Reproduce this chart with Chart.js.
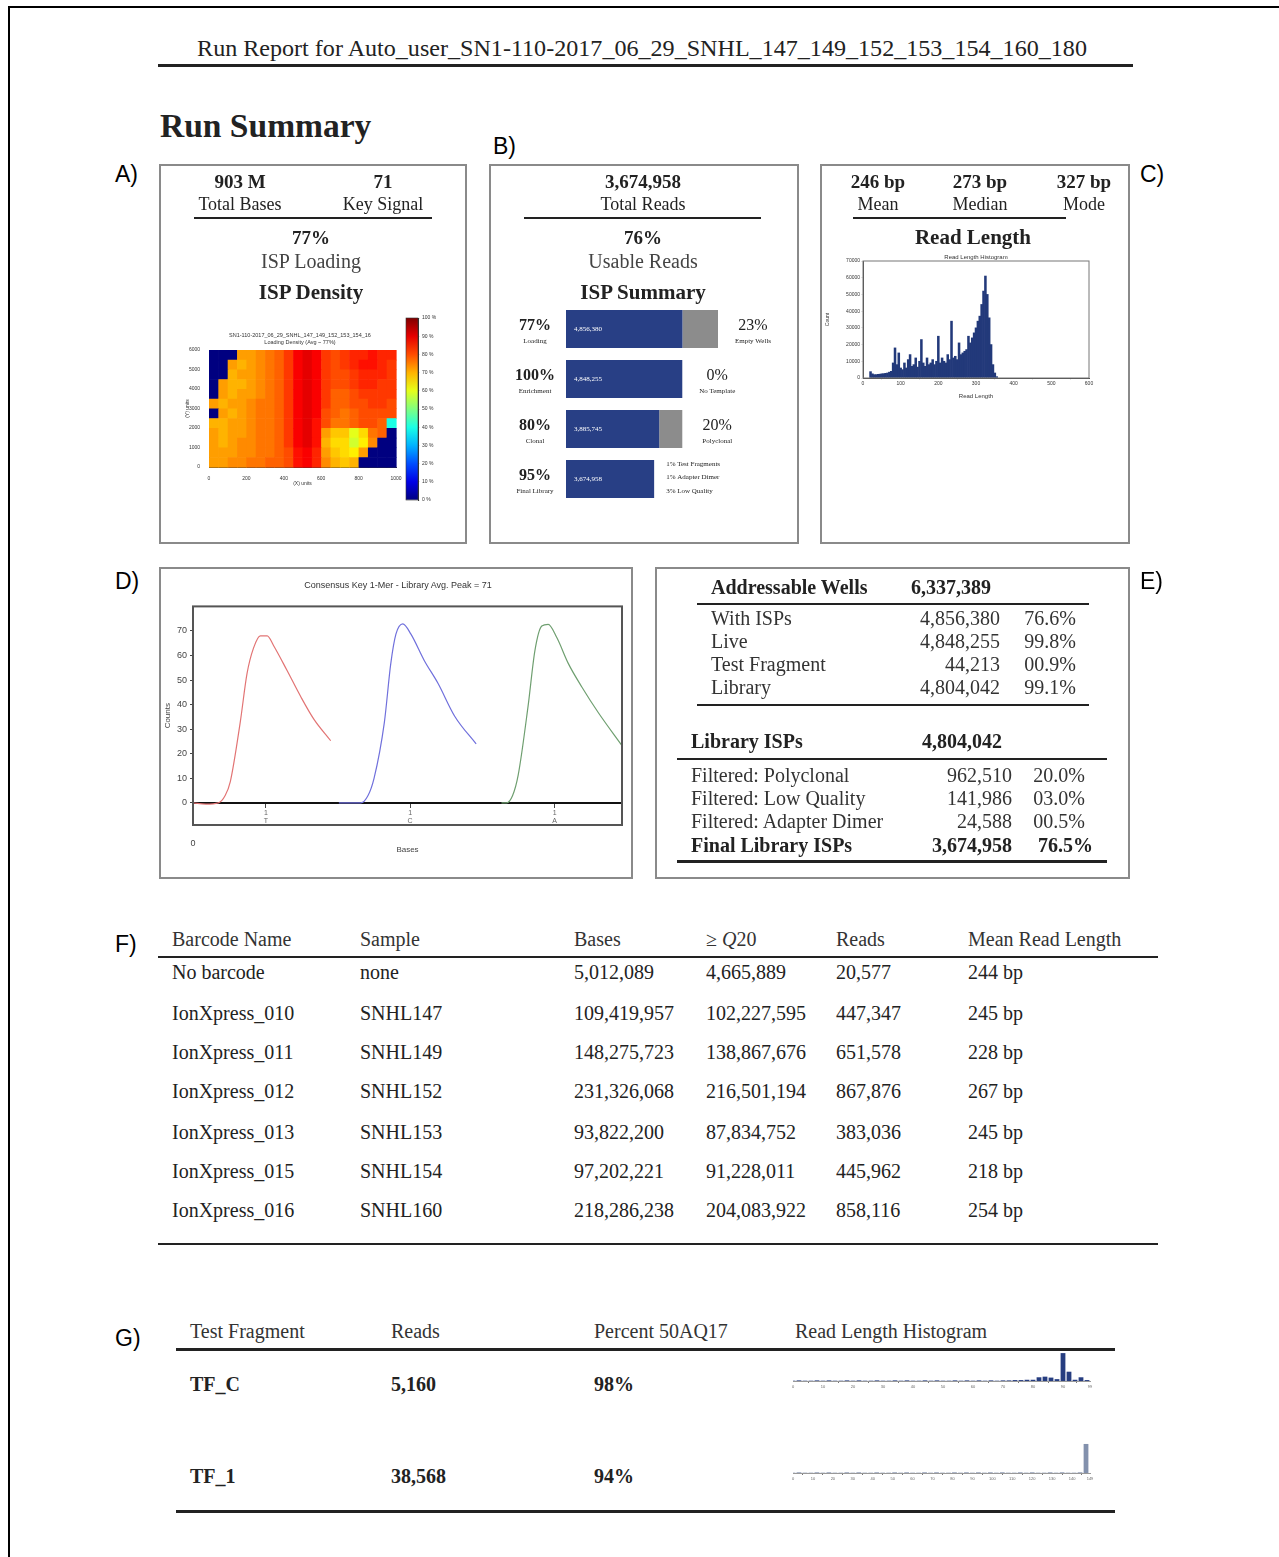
<!DOCTYPE html>
<html>
<head>
<meta charset="utf-8">
<script src="https://cdn.jsdelivr.net/npm/chart.js@4.4.0/dist/chart.umd.min.js"></script>
<style>
body { margin: 0; background: #fff; }
#page { position: relative; width: 1279px; height: 1557px; overflow: hidden; font-family: "Liberation Serif", serif; color: #222; }
.t { position: absolute; white-space: nowrap; }
.rule { position: absolute; background: #222; }
.box { position: absolute; border: 2px solid #8a8a8a; box-sizing: border-box; }
canvas { position: absolute; }
</style>
</head>
<body>
<div id="page">
  <div style="position:absolute;left:8px;top:6px;width:1269px;height:1600px;border-left:2px solid #000;border-top:2px solid #000;border-right:1px solid #999;"></div>
  <canvas id="heat" width="225" height="170" style="left:185px;top:325px"></canvas>
  <canvas id="cbar" width="52" height="195" style="left:400px;top:312px"></canvas>
  <canvas id="isp" width="303" height="210" style="left:492px;top:300px"></canvas>
  <canvas id="rlen" width="298" height="150" style="left:825px;top:250px"></canvas>
  <canvas id="key" width="465" height="277" style="left:163px;top:598px"></canvas>
  <canvas id="tfc" width="310" height="45" style="left:785px;top:1345px"></canvas>
  <canvas id="tf1" width="310" height="47" style="left:785px;top:1435px"></canvas>
</div>
<script>
// ---- data ----
const reportTitle = 'Run Report for Auto_user_SN1-110-2017_06_29_SNHL_147_149_152_153_154_160_180';

// ISP density (% loading), 20 cols x 12 rows, top row first; 0 = outside chip
const heatXMax = 1000, heatYMax = 6000;
const densityGrid = [
  [0,0,0,72,72,74,76,78,82,88,90,88,82,80,82,84,84,86,84,84],
  [0,0,72,70,72,74,76,78,82,88,90,88,82,80,82,84,86,86,84,82],
  [0,0,70,72,72,74,76,78,82,88,90,88,82,80,80,82,84,84,84,82],
  [0,72,70,70,72,74,76,78,82,88,90,88,82,80,80,82,84,84,82,82],
  [0,72,70,72,72,74,76,78,82,88,90,88,82,78,78,80,82,82,82,82],
  [72,70,72,72,74,76,76,78,82,88,90,88,82,78,78,80,80,82,82,80],
  [0,72,70,72,74,76,76,78,82,88,90,88,80,78,76,78,80,80,80,80],
  [70,70,72,72,74,76,76,78,82,88,90,86,80,76,76,78,80,80,78,40],
  [72,70,72,72,74,76,76,78,82,88,90,86,72,68,68,60,66,76,78,0],
  [72,70,72,74,74,76,76,78,82,88,90,86,70,66,66,58,64,74,0,0],
  [72,72,72,74,74,76,76,78,80,86,88,84,72,68,66,64,72,0,0,0],
  [72,72,74,74,76,76,78,78,80,86,88,84,74,70,68,70,0,0,0,0]
];

// ISP summary
const ispStages = ['Loading', 'Enrichment', 'Clonal', 'Final Library'];
const ispTotal = 6337389;
const ispPass = [4856380, 4848255, 3885745, 3674958];
const ispFail = [1481009, 0, 962510, 0];
const ispPassLabel = ['4,856,380', '4,848,255', '3,885,745', '3,674,958'];
const ispPct = ['77%', '100%', '80%', '95%'];
const ispRightPct = ['23%', '0%', '20%'];
const ispRightName = ['Empty Wells', 'No Template', 'Polyclonal'];
const finalNotes = ['1% Test Fragments', '1% Adapter Dimer', '3% Low Quality'];

// read length histogram (5 bp bins starting at 20 bp)
const readLenStart = 20, readLenStep = 5;
const readLenCounts = [
  3800, 2500, 2000, 2000, 2200, 2300, 2500, 2600, 2800, 3000,
  3500, 4000, 9000, 18000, 8000, 15000, 6000, 5000, 9000, 6000,
  11000, 14000, 7000, 8000, 12000, 6500, 10000, 23000, 9000, 7000,
  12000, 8000, 9000, 11000, 8000, 10000, 25000, 9000, 12000, 10000,
  9000, 14000, 11000, 34000, 12000, 13000, 11000, 21000, 14000, 15000,
  16000, 17000, 25000, 21000, 24000, 27000, 30000, 34000, 37000, 44000,
  52000, 61000, 50000, 36000, 20000, 8000, 3000, 800
];

// consensus key 1-mer traces
const keyRedX = [0, 3, 5.9, 7.5, 8.7, 11, 12.6, 14.1, 15.7, 17.3, 18.8, 21.9, 25.1, 28.2, 32.1];
const keyRedY = [0, -0.5, 0, 3, 8.7, 32.7, 52.7, 63, 68, 68, 64, 54, 43.3, 34, 25.3];
const keyBlueX = [34.0, 39.1, 40.8, 42.2, 44.6, 46.1, 47.3, 48.9, 50.8, 53.9, 57.1, 61.0, 66.0];
const keyBlueY = [0, 0, 3, 10, 32.7, 56.7, 68.7, 72.9, 68.7, 58, 48.7, 35.3, 24];
const keyGreenX = [71.9, 73.1, 74.5, 75.8, 78.1, 79.7, 81.3, 82.8, 84.8, 87.5, 90.6, 94.5, 100];
const keyGreenY = [0, 0, 3, 11.3, 39.3, 62, 72, 72.7, 67.3, 56.7, 47.3, 36.7, 23.3];
const keyTickX = [17, 50.6, 84.3];
const keyBases = ['T', 'C', 'A'];
const keyYTicks = [0, 10, 20, 30, 40, 50, 60, 70];

// wells table
const wellsRows = ['With ISPs', 'Live', 'Test Fragment', 'Library'];
const wellsCounts = ['4,856,380', '4,848,255', '44,213', '4,804,042'];
const wellsPct = ['76.6%', '99.8%', '00.9%', '99.1%'];
const filterRows = ['Filtered: Polyclonal', 'Filtered: Low Quality', 'Filtered: Adapter Dimer'];
const filterCounts = ['962,510', '141,986', '24,588'];
const filterPct = ['20.0%', '03.0%', '00.5%'];

// barcode table
const barcodeNames = ['No barcode', 'IonXpress_010', 'IonXpress_011', 'IonXpress_012', 'IonXpress_013', 'IonXpress_015', 'IonXpress_016'];
const samples = ['none', 'SNHL147', 'SNHL149', 'SNHL152', 'SNHL153', 'SNHL154', 'SNHL160'];
const bases = ['5,012,089', '109,419,957', '148,275,723', '231,326,068', '93,822,200', '97,202,221', '218,286,238'];
const q20Bases = ['4,665,889', '102,227,595', '138,867,676', '216,501,194', '87,834,752', '91,228,011', '204,083,922'];
const reads = ['20,577', '447,347', '651,578', '867,876', '383,036', '445,962', '858,116'];
const meanLens = ['244 bp', '245 bp', '228 bp', '267 bp', '245 bp', '218 bp', '254 bp'];

// test fragments
const tfNames = ['TF_C', 'TF_1'];
const tfReads = ['5,160', '38,568'];
const tfPct = ['98%', '94%'];
const tfcStep = 2;
const tfcCounts = [1,2,1,1,2,1,2,1,1,2, 1,2,1,1,2,1,1,2,1,2, 1,1,2,1,2,1,1,2,1,2, 1,2,1,2,1,2,2,3,3,4, 4,12,14,11,6,90,30,4,12,3];
const tf1Step = 3;
const tf1Counts = [1,2,1,1,2,1,2,1,1,2, 1,2,1,1,2,1,1,2,1,2, 1,1,2,1,2,1,1,2,1,2, 1,2,1,2,1,2,1,1,2,1, 2,1,1,2,1,2,1,1,2,88];

// ---- page text ----
const page = document.getElementById('page');

function txt(x, y, s, size, o = {}) {
    const d = document.createElement('div');
    d.className = 't';
    if (o.html) d.innerHTML = s; else d.textContent = s;
    d.style.fontSize = size + 'px';
    d.style.lineHeight = size + 'px';
    d.style.left = x + 'px';
    d.style.top = (y - size / 2) + 'px';
    if (o.bold) d.style.fontWeight = 'bold';
    if (o.color) d.style.color = o.color;
    if (o.font) d.style.fontFamily = o.font;
    const shift = o.align === 'c' ? '-50%' : o.align === 'r' ? '-100%' : '0';
    d.style.transform = 'translateX(' + shift + ')';
    page.appendChild(d);
    if (o.w) d.style.fontSize = (size * o.w / d.offsetWidth) + 'px';
    return d;
}
function rule(x0, x1, y, h = 2) {
    const d = document.createElement('div');
    d.className = 'rule';
    Object.assign(d.style, { left: x0 + 'px', top: (y - h / 2) + 'px', width: (x1 - x0) + 'px', height: h + 'px' });
    page.appendChild(d);
}
function box(x0, y0, x1, y1) {
    const d = document.createElement('div');
    d.className = 'box';
    Object.assign(d.style, { left: x0 + 'px', top: y0 + 'px', width: (x1 - x0) + 'px', height: (y1 - y0) + 'px' });
    page.appendChild(d);
}
const sans = '"Liberation Sans", Arial, sans-serif';
function panelLabel(x, y, s) { txt(x, y, s, 23, { font: sans, color: '#000' }); }

txt(642, 48, reportTitle, 24, { align: 'c', w: 890 });
rule(158, 1133, 65, 3);
txt(160, 125, 'Run Summary', 31, { bold: true, w: 212 });

box(159, 164, 467, 544); box(489, 164, 799, 544); box(820, 164, 1130, 544);
box(159, 567, 633, 879); box(655, 567, 1130, 879);
panelLabel(115, 174, 'A)'); panelLabel(493, 146, 'B)'); panelLabel(1140, 174, 'C)');
panelLabel(115, 581, 'D)'); panelLabel(1140, 581, 'E)');
panelLabel(115, 944, 'F)'); panelLabel(115, 1338, 'G)');

// A
txt(240, 181, '903 M', 19, { bold: true, align: 'c' });
txt(240, 204, 'Total Bases', 18, { align: 'c' });
txt(383, 181, '71', 19, { bold: true, align: 'c' });
txt(383, 204, 'Key Signal', 18, { align: 'c' });
rule(194, 432, 218, 2);
txt(311, 237, '77%', 19, { bold: true, align: 'c' });
txt(311, 261, 'ISP Loading', 20, { align: 'c', color: '#444' });
txt(311, 292, 'ISP Density', 21, { bold: true, align: 'c' });
txt(300, 336, 'SN1-110-2017_06_29_SNHL_147_149_152_153_154_16', 5.5, { align: 'c', font: sans, color: '#333' });
txt(300, 343, 'Loading Density (Avg ~ 77%)', 5.5, { align: 'c', font: sans, color: '#333' });

// B
txt(643, 181, '3,674,958', 19, { bold: true, align: 'c' });
txt(643, 204, 'Total Reads', 18, { align: 'c' });
rule(524, 761, 218, 2);
txt(643, 237, '76%', 19, { bold: true, align: 'c' });
txt(643, 261, 'Usable Reads', 20, { align: 'c', color: '#444' });
txt(643, 292, 'ISP Summary', 21, { bold: true, align: 'c' });

// C
txt(878, 181, '246 bp', 19, { bold: true, align: 'c' });
txt(878, 204, 'Mean', 18, { align: 'c' });
txt(980, 181, '273 bp', 19, { bold: true, align: 'c' });
txt(980, 204, 'Median', 18, { align: 'c' });
txt(1084, 181, '327 bp', 19, { bold: true, align: 'c' });
txt(1084, 204, 'Mode', 18, { align: 'c' });
rule(853, 1066, 218, 2);
txt(973, 237, 'Read Length', 21, { bold: true, align: 'c' });
txt(976, 257, 'Read Length Histogram', 6, { align: 'c', font: sans, color: '#333' });

// D
txt(398, 585, 'Consensus Key 1-Mer - Library Avg. Peak = 71', 9, { align: 'c', font: sans, color: '#333' });

// E
txt(711, 587, 'Addressable Wells', 20, { bold: true });
txt(911, 587, '6,337,389', 20, { bold: true });
rule(697, 1089, 604, 2);
wellsRows.forEach((name, i) => {
    const y = 618 + i * 23;
    txt(711, y, name, 20, { color: '#333' });
    txt(1000, y, wellsCounts[i], 20, { align: 'r', color: '#333' });
    txt(1076, y, wellsPct[i], 20, { align: 'r', color: '#333' });
});
rule(697, 1089, 705, 2);
txt(691, 741, 'Library ISPs', 20, { bold: true });
txt(922, 741, '4,804,042', 20, { bold: true });
rule(677, 1107, 759, 2);
filterRows.forEach((name, i) => {
    const y = 775 + i * 23;
    txt(691, y, name, 20, { color: '#333' });
    txt(1012, y, filterCounts[i], 20, { align: 'r', color: '#333' });
    txt(1085, y, filterPct[i], 20, { align: 'r', color: '#333' });
});
txt(691, 845, 'Final Library ISPs', 20, { bold: true });
txt(1012, 845, '3,674,958', 20, { bold: true, align: 'r' });
txt(1093, 845, '76.5%', 20, { bold: true, align: 'r' });
rule(677, 1107, 861, 3);

// F
const fCols = [172, 360, 574, 706, 836, 968];
['Barcode Name', 'Sample', 'Bases', '&ge; <i>Q</i>20', 'Reads', 'Mean Read Length'].forEach((h, i) => {
    txt(fCols[i], 939, h, 20, { html: true, color: '#333' });
});
rule(158, 1158, 957, 2);
const fRowY = [972, 1013, 1052, 1091, 1132, 1171, 1210];
barcodeNames.forEach((n, i) => {
    const y = fRowY[i];
    [n, samples[i], bases[i], q20Bases[i], reads[i], meanLens[i]].forEach((v, k) => txt(fCols[k], y, v, 20));
});
rule(158, 1158, 1244, 2);

// G
const gCols = [190, 391, 594, 795];
['Test Fragment', 'Reads', 'Percent 50AQ17', 'Read Length Histogram'].forEach((h, i) => {
    txt(gCols[i], 1331, h, 20, { color: '#333' });
});
rule(176, 1115, 1349, 3);
const gRowY = [1384, 1476];
tfNames.forEach((n, i) => {
    txt(gCols[0], gRowY[i], n, 20, { bold: true });
    txt(gCols[1], gRowY[i], tfReads[i], 20, { bold: true });
    txt(gCols[2], gRowY[i], tfPct[i], 20, { bold: true });
});
rule(176, 1115, 1511, 3);

// ---- charts ----
function jet(v) {
    const c = x => Math.round(255 * Math.max(0, Math.min(1, x)));
    return 'rgb(' + c(1.5 - Math.abs(4 * v - 3)) + ',' + c(1.5 - Math.abs(4 * v - 2)) + ',' + c(1.5 - Math.abs(4 * v - 1)) + ')';
}
const base = {
    responsive: false, animation: false, events: [],
    plugins: { legend: { display: false }, tooltip: { enabled: false } }
};
const tiny = (size) => ({ size: size, family: 'Liberation Sans' });
const plain = v => String(v);
const frame = (color, w) => ({
    id: 'frame',
    afterDraw(chart) {
        const a = chart.chartArea, c = chart.ctx;
        c.save(); c.strokeStyle = color; c.lineWidth = w;
        c.strokeRect(a.left, a.top, a.right - a.left, a.bottom - a.top);
        c.restore();
    }
});

// A: ISP density map
const heatPlugin = {
    id: 'heat',
    beforeDatasetsDraw(chart) {
        const xs = chart.scales.x, ys = chart.scales.y, c = chart.ctx;
        const cw = heatXMax / densityGrid[0].length, ch = heatYMax / densityGrid.length;
        densityGrid.forEach((row, r) => row.forEach((v, k) => {
            const x0 = xs.getPixelForValue(k * cw), x1 = xs.getPixelForValue((k + 1) * cw);
            const y0 = ys.getPixelForValue(heatYMax - r * ch), y1 = ys.getPixelForValue(heatYMax - (r + 1) * ch);
            c.fillStyle = jet(v / 100);
            c.fillRect(x0, y0, x1 - x0 + 0.6, y1 - y0 + 0.6);
        }));
    }
};
new Chart(document.getElementById('heat'), {
    type: 'scatter',
    data: { datasets: [{ data: [] }] },
    options: {
        ...base,
        layout: { padding: { top: 25, right: 14, bottom: 8 } },
        scales: {
            x: { type: 'linear', min: 0, max: heatXMax, ticks: { stepSize: 200, callback: plain, font: tiny(5), color: '#333', padding: 1, maxRotation: 0 },
                 grid: { display: false }, border: { color: '#333' },
                 title: { display: true, text: '(X) units', font: tiny(5), color: '#333', padding: 0 },
                 afterFit: s => { s.height = 20; } },
            y: { type: 'linear', min: 0, max: heatYMax, ticks: { stepSize: 1000, callback: plain, font: tiny(5), color: '#333', padding: 1 },
                 grid: { display: false }, border: { color: '#333' },
                 title: { display: true, text: '(Y) units', font: tiny(5), color: '#333', padding: 0 },
                 afterFit: s => { s.width = 24; } }
        }
    },
    plugins: [heatPlugin]
});

// A: colour bar
new Chart(document.getElementById('cbar'), {
    type: 'bar',
    data: { labels: [''], datasets: [{
        data: [100], barPercentage: 1, categoryPercentage: 1,
        backgroundColor: ctx => {
            const a = ctx.chart.chartArea;
            if (!a) return '#888';
            const g = ctx.chart.ctx.createLinearGradient(0, a.bottom, 0, a.top);
            for (let i = 0; i <= 10; i++) g.addColorStop(i / 10, jet(i / 10));
            return g;
        }
    }] },
    options: {
        ...base,
        layout: { padding: { left: 6, top: 6, bottom: 7 } },
        scales: {
            x: { display: false },
            y: { position: 'right', min: 0, max: 100, ticks: { stepSize: 10, callback: v => v + ' %', font: tiny(5), color: '#333', padding: 2 },
                 grid: { drawOnChartArea: false, tickLength: 2 }, border: { color: '#333' }, afterFit: s => { s.width = 34; } }
        }
    },
    plugins: [frame('#333', 0.6)]
});

// B: ISP summary bars
const ispLabels = {
    id: 'ispLabels',
    afterDatasetsDraw(chart) {
        const c = chart.ctx, a = chart.chartArea;
        const m0 = chart.getDatasetMeta(0), m1 = chart.getDatasetMeta(1);
        c.save();
        c.textBaseline = 'middle';
        m0.data.forEach((bar, i) => {
            const y = bar.y, end = Math.max(bar.x, m1.data[i].x);
            c.fillStyle = '#fff'; c.font = '7px "Liberation Serif"'; c.textAlign = 'left';
            c.fillText(ispPassLabel[i], bar.base + 8, y);
            c.fillStyle = '#222'; c.textAlign = 'center';
            c.font = 'bold 16px "Liberation Serif"';
            c.fillText(ispPct[i], a.left - 31, y - 3);
            c.font = '7px "Liberation Serif"';
            c.fillText(ispStages[i], a.left - 31, y + 12);
            if (i < 3) {
                c.font = '16px "Liberation Serif"';
                c.fillText(ispRightPct[i], end + 35, y - 3);
                c.font = '7px "Liberation Serif"';
                c.fillText(ispRightName[i], end + 35, y + 12);
            } else {
                c.textAlign = 'left'; c.font = '7px "Liberation Serif"';
                finalNotes.forEach((s, k) => c.fillText(s, end + 12, y - 15 + k * 13.5));
            }
        });
        c.restore();
    }
};
new Chart(document.getElementById('isp'), {
    type: 'bar',
    data: { labels: ispStages, datasets: [
        { data: ispPass, backgroundColor: '#283f85', barPercentage: 0.76, categoryPercentage: 1 },
        { data: ispFail, backgroundColor: '#8c8c8c', barPercentage: 0.76, categoryPercentage: 1 }
    ] },
    options: {
        ...base,
        indexAxis: 'y',
        layout: { padding: { left: 74, right: 77, top: 4, bottom: 6 } },
        scales: { x: { display: false, stacked: true, min: 0, max: ispTotal }, y: { display: false, stacked: true } }
    },
    plugins: [ispLabels]
});

// C: read length histogram
new Chart(document.getElementById('rlen'), {
    type: 'bar',
    data: { datasets: [{
        data: readLenCounts.map((v, i) => ({ x: readLenStart + i * readLenStep, y: v })),
        backgroundColor: '#22397a', barPercentage: 1, categoryPercentage: 1
    }] },
    options: {
        ...base,
        layout: { padding: { top: 11, right: 34 } },
        scales: {
            x: { type: 'linear', min: 0, max: 600, offset: false, ticks: { stepSize: 100, callback: plain, font: tiny(5), color: '#333', padding: 1, maxRotation: 0 },
                 grid: { drawOnChartArea: false, tickLength: 2 }, border: { color: '#444' },
                 title: { display: true, text: 'Read Length', font: tiny(6), color: '#333', padding: 0 },
                 afterFit: s => { s.height = 22; } },
            y: { min: 0, max: 70000, ticks: { stepSize: 10000, callback: plain, font: tiny(5), color: '#333', padding: 1 },
                 grid: { drawOnChartArea: false, tickLength: 2 }, border: { color: '#444' },
                 title: { display: true, text: 'Count', font: tiny(5), color: '#333', padding: 0 },
                 afterFit: s => { s.width = 38; } }
        }
    },
    plugins: [frame('#777', 1)]
});

// D: consensus key 1-mer
const xy = (xs, ys) => xs.map((x, i) => ({ x: x, y: ys[i] }));
const keyLine = (xs, ys, color) => ({ data: xy(xs, ys), borderColor: color, borderWidth: 1.2, pointRadius: 0, cubicInterpolationMode: 'monotone', fill: false });
new Chart(document.getElementById('key'), {
    type: 'line',
    data: { datasets: [
        keyLine(keyRedX, keyRedY, '#e27474'),
        keyLine(keyBlueX, keyBlueY, '#7070dc'),
        keyLine(keyGreenX, keyGreenY, '#6f9f70')
    ] },
    options: {
        ...base,
        layout: { padding: { top: 4, right: 6, bottom: 20 } },
        scales: {
            x: { type: 'linear', min: 0, max: 100, afterBuildTicks: s => { s.ticks = [{ value: 0 }]; },
                 ticks: { font: tiny(9), color: '#444', padding: 5 }, grid: { display: false }, border: { display: false },
                 title: { display: true, text: 'Bases', font: tiny(8), color: '#444', padding: 0 },
                 afterFit: s => { s.height = 30; } },
            xk: { type: 'linear', position: { y: 0 }, min: 0, max: 100,
                  afterBuildTicks: s => { s.ticks = keyTickX.map(v => ({ value: v })); },
                  ticks: { callback: (v, i) => ['1', keyBases[i]], font: tiny(7), color: '#666', padding: 2 },
                  grid: { drawOnChartArea: false, tickLength: 4, color: '#444' }, border: { color: '#111', width: 2 } },
            y: { min: -9, max: 80, afterBuildTicks: s => { s.ticks = keyYTicks.map(v => ({ value: v })); },
                 ticks: { font: tiny(9), color: '#444', padding: 3 },
                 grid: { drawOnChartArea: false, tickLength: 3, color: '#444' }, border: { display: false },
                 title: { display: true, text: 'Counts', font: tiny(8), color: '#444', padding: 0 },
                 afterFit: s => { s.width = 30; } }
        }
    },
    plugins: [frame('#555', 2)]
});

// G: test fragment histograms
function tfChart(id, counts, step, xMax, color) {
    new Chart(document.getElementById(id), {
        type: 'bar',
        data: { datasets: [{
            data: counts.map((v, i) => ({ x: i * step, y: v })),
            backgroundColor: color, barPercentage: 0.8, categoryPercentage: 1
        }] },
        options: {
            ...base,
            layout: { padding: { left: 8, right: 5, top: 5 } },
            scales: {
                x: { type: 'linear', min: 0, max: xMax, offset: false, ticks: { stepSize: 10, font: tiny(4), color: '#666', padding: 1, maxRotation: 0 },
                     grid: { drawOnChartArea: false, tickLength: 2, color: '#777' }, border: { color: '#999', dash: [2, 1] },
                     afterFit: s => { s.height = 9; } },
                y: { display: false, min: 0, max: 100 }
            }
        }
    });
}
tfChart('tfc', tfcCounts, tfcStep, 99, '#263d80');
tfChart('tf1', tf1Counts, tf1Step, 149, '#8391ad');
</script>
</body>
</html>
